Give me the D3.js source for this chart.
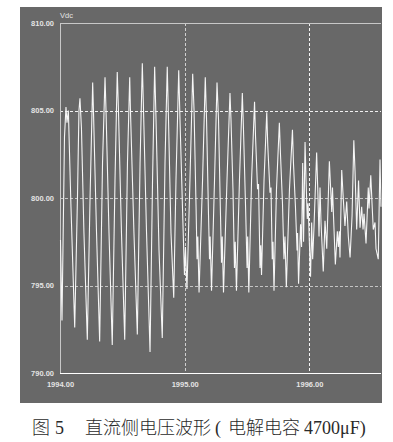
<!DOCTYPE html>
<html>
<head>
<meta charset="utf-8">
<script src="https://cdn.jsdelivr.net/npm/d3@7"></script>
<style>
  html, body { margin: 0; padding: 0; background: #fff; }
  svg { display: block; }
</style>
</head>
<body>
<svg id="chart" width="393" height="442"></svg>
<script>
// ---- data ----
const time = [
  1994.004, 1994.016, 1994.036, 1994.048, 1994.056, 1994.067, 1994.088, 1994.118,
  1994.140, 1994.152, 1994.160, 1994.172, 1994.192, 1994.219, 1994.241, 1994.262,
  1994.269, 1994.293, 1994.318, 1994.341, 1994.361, 1994.369, 1994.393, 1994.419,
  1994.441, 1994.459, 1994.468, 1994.493, 1994.519, 1994.541, 1994.559, 1994.565,
  1994.593, 1994.620, 1994.642, 1994.660, 1994.668, 1994.694, 1994.722, 1994.742,
  1994.759, 1994.770, 1994.794, 1994.820, 1994.842, 1994.860, 1994.870, 1994.890,
  1994.912, 1994.930, 1994.952, 1994.962,
  1994.986, 1994.998, 1995.006, 1995.018, 1995.042, 1995.064, 1995.075, 1995.091,
  1995.099, 1995.105, 1995.115, 1995.143, 1995.165, 1995.175, 1995.191, 1995.199,
  1995.204, 1995.215, 1995.239, 1995.259, 1995.271, 1995.287, 1995.295, 1995.301,
  1995.311, 1995.339, 1995.363, 1995.371, 1995.387, 1995.399, 1995.405, 1995.415,
  1995.439, 1995.462, 1995.471, 1995.488, 1995.500, 1995.505, 1995.514, 1995.536,
  1995.560, 1995.568, 1995.584, 1995.592, 1995.604, 1995.610, 1995.616, 1995.636,
  1995.658, 1995.666, 1995.684, 1995.692, 1995.702, 1995.708, 1995.716, 1995.736,
  1995.759, 1995.768, 1995.784, 1995.796, 1995.804, 1995.815, 1995.840, 1995.864,
  1995.872, 1995.888, 1995.901, 1995.905, 1995.913,
  1995.929, 1995.937, 1995.946, 1995.953, 1995.965, 1995.973, 1995.983, 1995.989,
  1996.009, 1996.018, 1996.026, 1996.037, 1996.058, 1996.069, 1996.077, 1996.085,
  1996.093, 1996.111, 1996.125, 1996.139, 1996.160, 1996.179, 1996.185, 1996.193,
  1996.208, 1996.224, 1996.232, 1996.240, 1996.245, 1996.259, 1996.272, 1996.285,
  1996.299, 1996.312, 1996.326, 1996.342, 1996.356, 1996.366, 1996.379, 1996.394,
  1996.406, 1996.419, 1996.430, 1996.438, 1996.454, 1996.472, 1996.478, 1996.492,
  1996.502, 1996.512, 1996.526, 1996.534, 1996.552, 1996.566, 1996.574
];
const vdc = [
  797.6, 793.0, 803.5, 805.2, 804.3, 805.0, 799.5, 792.6,
  800.0, 805.0, 805.7, 804.0, 798.0, 791.9, 800.0, 806.6,
  804.8, 798.0, 791.8, 802.0, 806.9, 805.0, 798.0, 791.6,
  801.0, 807.2, 805.2, 798.0, 791.9, 802.0, 806.9, 805.0,
  798.0, 792.2, 802.0, 807.7, 805.5, 798.0, 791.2, 801.0,
  807.5, 804.5, 797.0, 792.0, 802.0, 807.5, 804.5, 798.0,
  794.3, 801.0, 807.3, 804.5,
  798.5, 795.6, 797.2, 794.8, 801.0, 807.1, 805.0, 799.5,
  796.5, 797.8, 794.6, 801.0, 806.9, 804.5, 799.0, 796.5,
  797.8, 794.7, 801.0, 806.6, 804.5, 799.0, 796.3, 797.8,
  794.6, 801.0, 806.0, 804.5, 800.5, 796.0, 797.5, 794.7,
  801.0, 806.0, 804.0, 799.5, 796.0, 797.8, 794.6, 801.0,
  805.5, 803.5, 800.5, 800.8, 796.0, 797.3, 795.6, 801.0,
  804.9, 803.0, 800.3, 800.6, 796.5, 797.5, 794.7, 800.5,
  804.3, 802.5, 799.7, 796.5, 797.8, 794.9, 800.5, 803.9,
  802.0, 799.5, 797.0, 798.0, 795.1,
  798.5, 797.2, 802.0, 797.5, 803.2, 801.0, 798.8, 799.7,
  795.5, 798.6, 796.5, 798.4, 802.6, 800.0, 797.8, 800.6,
  798.6, 795.8, 798.7, 797.1, 802.1, 799.2, 800.6, 799.0,
  796.2, 798.1, 797.2, 798.1, 796.6, 801.6, 799.9, 798.4,
  799.8, 797.8, 796.6, 799.0, 803.3, 801.5, 798.2, 801.0,
  798.3, 799.5, 798.2, 799.1, 797.4, 800.6, 799.4, 801.3,
  799.7, 798.2, 798.6, 797.1, 796.5, 802.2, 799.5
];
const xTicks = [1994, 1995, 1996];
const yTicks = [790, 795, 800, 805, 810];
const xGrid = [1995, 1996];
const yGrid = [795, 800, 805];
const yLabel = "Vdc";
const caption = ["图", "5", "直流侧电压波形", "(", "电解电容", "4700μF)"];

// ---- drawing ----
const svg = d3.select("#chart");
const mLeft = 60, mRight = 381, mTop = 23, mBottom = 373;

const x = d3.scaleLinear().domain([1994, 1996.574]).range([mLeft, mRight]);
const y = d3.scaleLinear().domain([790, 810]).range([mBottom, mTop]);

// grey panel
svg.append("rect")
  .attr("x", 20).attr("y", 7).attr("width", 362).attr("height", 396)
  .attr("fill", "#686868");

// grid lines
const gridColY = {795: "#c4c4c4", 800: "#c4c4c4", 805: "#f0f0f0"};
svg.append("g").selectAll("line").data(yGrid).join("line")
  .attr("x1", mLeft).attr("x2", mRight)
  .attr("y1", d => Math.round(y(d)) + 0.5).attr("y2", d => Math.round(y(d)) + 0.5)
  .attr("stroke", d => gridColY[d]).attr("stroke-width", 1)
  .attr("stroke-dasharray", "3,2");
const gridColX = {1995: "#d0d0d0", 1996: "#f5f5f5"};
svg.append("g").selectAll("line").data(xGrid).join("line")
  .attr("y1", mTop).attr("y2", mBottom)
  .attr("x1", d => Math.round(x(d)) + 0.5).attr("x2", d => Math.round(x(d)) + 0.5)
  .attr("stroke", d => gridColX[d]).attr("stroke-width", 1)
  .attr("stroke-dasharray", "3,2");

// frame lines
svg.append("line").attr("x1", mLeft + 0.5).attr("x2", mLeft + 0.5).attr("y1", mTop).attr("y2", mBottom)
  .attr("stroke", "#c8c8c8");
svg.append("line").attr("x1", mLeft).attr("x2", mRight).attr("y1", mTop + 0.5).attr("y2", mTop + 0.5)
  .attr("stroke", "#c8c8c8");

// waveform
const pts = time.map((t, i) => [t, vdc[i]]);
const line = d3.line().x(d => x(d[0])).y(d => y(d[1]));
svg.append("path")
  .datum(pts)
  .attr("d", line)
  .attr("fill", "none")
  .attr("stroke", "#f6f6f6")
  .attr("stroke-width", 1.1)
  .attr("stroke-linejoin", "miter");

// bottom axis line
svg.append("line").attr("x1", mLeft).attr("x2", mRight).attr("y1", mBottom + 0.5).attr("y2", mBottom + 0.5)
  .attr("stroke", "#ffffff").attr("stroke-width", 1.2);

// axes (labels only)
const yAxis = d3.axisLeft(y).tickValues(yTicks).tickSize(0).tickPadding(6)
  .tickFormat(d => d.toFixed(2));
const gy = svg.append("g").attr("transform", `translate(${mLeft},0)`).call(yAxis);
gy.select(".domain").remove();
gy.selectAll("text")
  .attr("fill", "#e4e4e4")
  .attr("font-family", "'Liberation Sans', Arial, sans-serif")
  .attr("font-size", 7.5).attr("font-weight", "bold");

const xAxis = d3.axisBottom(x).tickValues(xTicks).tickSize(0).tickPadding(9)
  .tickFormat(d => d.toFixed(2));
const gx = svg.append("g").attr("transform", `translate(0,${mBottom})`).call(xAxis);
gx.select(".domain").remove();
gx.selectAll("text")
  .attr("fill", "#e4e4e4")
  .attr("font-family", "'Liberation Sans', Arial, sans-serif")
  .attr("font-size", 7.5).attr("font-weight", "bold");

// unit label
svg.append("text").attr("x", mLeft).attr("y", 17.5)
  .attr("fill", "#e4e4e4")
  .attr("font-family", "'Liberation Sans', Arial, sans-serif")
  .attr("font-size", 7.5)
  .text(yLabel);

// caption
const cap = svg.append("text").attr("y", 434)
  .attr("fill", "#2a2a2a")
  .attr("font-family", "'Liberation Serif', 'Times New Roman', 'Noto Sans CJK SC', serif")
  .attr("font-size", 18)
  .attr("font-weight", 300);
const capX = [32, 55, 85, 215, 228, 304];
caption.forEach((s, i) => cap.append("tspan").attr("x", capX[i]).text(s));
</script>
</body>
</html>
